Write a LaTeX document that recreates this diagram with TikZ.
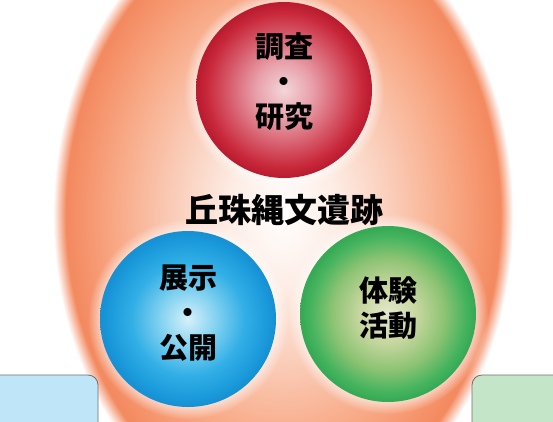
\documentclass[tikz,border=0pt]{standalone}
\usepackage{fontspec}
\newfontfamily\cjk{Noto Sans CJK JP}
\usetikzlibrary{fadings}

\definecolor{glowA}{RGB}{255,255,255}
\definecolor{glowB}{RGB}{253,236,228}
\definecolor{glowC}{RGB}{250,204,184}
\definecolor{glowD}{RGB}{248,170,135}
\definecolor{glowE}{RGB}{245,146,106}
\definecolor{glowF}{RGB}{243,137,95}
\definecolor{redA}{RGB}{243,214,218}
\definecolor{redB}{RGB}{232,160,170}
\definecolor{redC}{RGB}{214,90,106}
\definecolor{redD}{RGB}{200,40,58}
\definecolor{redE}{RGB}{188,28,48}
\definecolor{blueA}{RGB}{215,240,250}
\definecolor{blueB}{RGB}{130,210,240}
\definecolor{blueC}{RGB}{50,175,230}
\definecolor{blueD}{RGB}{28,155,220}
\definecolor{blueE}{RGB}{22,145,212}
\definecolor{greenA}{RGB}{228,232,205}
\definecolor{greenB}{RGB}{200,215,160}
\definecolor{greenC}{RGB}{140,195,115}
\definecolor{greenD}{RGB}{70,180,95}
\definecolor{greenE}{RGB}{55,170,85}
\definecolor{panelgray}{RGB}{110,110,110}
\definecolor{panelblue}{RGB}{190,230,248}
\definecolor{panelgreen}{RGB}{197,229,201}

\pgfdeclareradialshading{orangeglow}{\pgfpoint{0bp}{0bp}}{color(0bp)=(glowA); color(6bp)=(glowB); color(12bp)=(glowC); color(18bp)=(glowD); color(22bp)=(glowE); color(23.6bp)=(glowF); color(25bp)=(glowA); color(50bp)=(glowA)}
\pgfdeclareradialshading{redball}{\pgfpoint{0bp}{0bp}}{color(0bp)=(redA); color(8bp)=(redB); color(16bp)=(redC); color(22bp)=(redD); color(24.5bp)=(redE); color(50bp)=(redE)}
\pgfdeclareradialshading{blueball}{\pgfpoint{0bp}{0bp}}{color(0bp)=(blueA); color(8bp)=(blueB); color(16bp)=(blueC); color(22bp)=(blueD); color(24.5bp)=(blueE); color(50bp)=(blueE)}
\pgfdeclareradialshading{greenball}{\pgfpoint{0bp}{0bp}}{color(0bp)=(greenA); color(8bp)=(greenB); color(16bp)=(greenC); color(22bp)=(greenD); color(24.5bp)=(greenE); color(50bp)=(greenE)}
\pgfdeclareradialshading{halofade}{\pgfpoint{0bp}{0bp}}{color(0bp)=(white); color(21bp)=(white); color(25bp)=(black); color(50bp)=(black)}
\pgfdeclarefading{halo}{\pgfuseshading{halofade}}

\begin{document}
\begin{tikzpicture}[x=1pt,y=-1pt,
  ball/.style={circle,minimum size=176pt,inner sep=0pt,shade},
  balltext/.style={font=\cjk\bfseries\fontsize{29}{35}\selectfont,align=center,inner sep=0pt},
  panel/.style={draw=panelgray,line width=0.8pt,rounded corners=10pt}]
\useasboundingbox (0,0) rectangle (553,421);
\clip (0,0) rectangle (553,421);

% orange background
\shade[shading=orangeglow] (283,215) ellipse (230 and 312);

\coordinate (survey) at (284,90);
\coordinate (display) at (188,319);
\coordinate (activity) at (388,314);
\foreach \c in {survey,display,activity}
  \fill[white,path fading=halo,fill opacity=0.7] (\c) circle (100);

% three balls
\node[ball,shading=redball] (surveyball) at (survey) {};
\node[ball,shading=blueball] (displayball) at (display) {};
\node[ball,shading=greenball] (activityball) at (activity) {};

\node[balltext] (surveytext) at ([yshift=8pt]surveyball.center) {調査\\・\\研究};
\node[balltext] (displaytext) at ([yshift=6pt]displayball.center) {展示\\・\\公開};
\node[balltext] (activitytext) at ([yshift=6pt]activityball.center) {体験\\活動};

\node[font=\cjk\bfseries\fontsize{33}{36}\selectfont,inner sep=0pt] (site) at (284,210) {丘珠縄文遺跡};

% panels at the bottom
\draw[panel,fill=panelblue] (-20,375) rectangle (98,460);
\draw[panel,fill=panelgreen] (472,375) rectangle (580,460);
\end{tikzpicture}
\end{document}
